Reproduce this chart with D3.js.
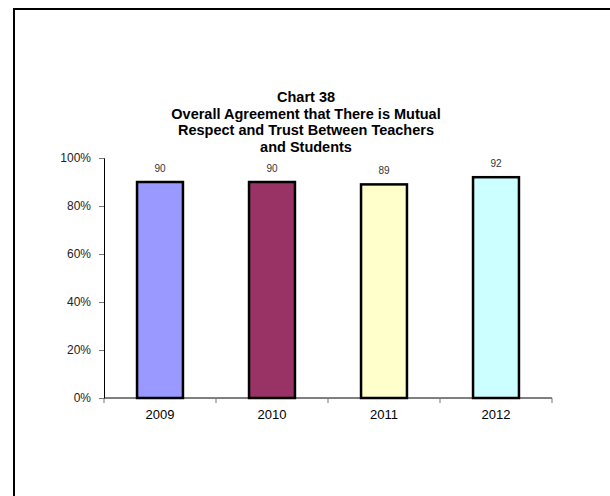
<!DOCTYPE html>
<html>
<head>
<meta charset="utf-8">
<style>
  body { margin: 0; background: #fff; }
  text { font-family: "Liberation Sans", Arial, sans-serif; }
</style>
</head>
<body>
<svg class="chart"></svg>
<script src="https://d3js.org/d3.v7.min.js"></script>
<script>
// data
const years = ["2009", "2010", "2011", "2012"];
const agreement = [90, 90, 89, 92];
const barColors = ["#9999FF", "#993366", "#FFFFCC", "#CCFFFF"];
const yTicks = [0, 20, 40, 60, 80, 100];
const titleLines = ["Chart 38", "Overall Agreement that There is Mutual",
                    "Respect and Trust Between Teachers", "and Students"];

let width = 610, height = 496;
let plot = { left: 104, right: 552, top: 158, bottom: 398 };

let svg = d3.select(".chart")
    .attr("width", width)
    .attr("height", height);

svg.append("rect").attr("width", width).attr("height", height).attr("fill", "#fff");

// outer frame, runs off the right and bottom edges
svg.append("rect")
    .attr("x", 14).attr("y", 9)
    .attr("width", 620).attr("height", 520)
    .attr("fill", "none")
    .attr("stroke", "#000")
    .attr("stroke-width", 2);

// title
svg.append("text")
    .attr("x", 306).attr("y", 102)
    .attr("text-anchor", "middle")
    .style("font-size", "14.5px")
    .style("font-weight", "bold")
    .selectAll("tspan")
    .data(titleLines)
    .join("tspan")
      .attr("x", 306)
      .attr("dy", (d, i) => i == 0 ? 0 : 16.6)
      .text(d => d);

let xScale = d3.scaleBand().domain(years).range([plot.left, plot.right]).paddingInner(0.59).paddingOuter(0.295);
let xTicks = d3.scaleBand().domain(years).range([plot.left, plot.right]);
let yScale = d3.scaleLinear().domain([0, 100]).range([plot.bottom, plot.top]);

// y axis
let yAxis = d3.axisLeft(yScale).tickValues(yTicks).tickSize(5).tickPadding(8).tickFormat(d => d + "%");
let gy = svg.append("g").attr("transform", "translate(" + plot.left + ",0)").call(yAxis);
gy.select(".domain").attr("stroke", "#000");
gy.selectAll(".tick line").attr("stroke", "#777");
gy.selectAll(".tick text").style("font-size", "12px").attr("fill", "#222").style("font-family", "Liberation Sans, Arial, sans-serif");

// bars
svg.selectAll(".bar")
    .data(agreement)
    .join("rect")
      .attr("class", "bar")
      .attr("x", (d, i) => xScale(years[i]))
      .attr("y", d => yScale(d))
      .attr("width", xScale.bandwidth())
      .attr("height", d => plot.bottom - yScale(d))
      .attr("fill", (d, i) => barColors[i])
      .attr("stroke", "#000")
      .attr("stroke-width", 2.5);

// value labels
svg.selectAll(".val")
    .data(agreement)
    .join("text")
      .attr("class", "val")
      .attr("x", (d, i) => xScale(years[i]) + xScale.bandwidth() / 2)
      .attr("y", d => yScale(d) - 10)
      .attr("text-anchor", "middle")
      .style("font-size", "10px")
      .attr("fill", "#333")
      .text(d => d);

// x axis, ticks between categories
let xAxisLine = svg.append("g").attr("transform", "translate(0," + plot.bottom + ")");
xAxisLine.append("line").attr("x1", plot.left).attr("x2", plot.right).attr("stroke", "#000");
xAxisLine.selectAll(".xt")
    .data(years.map(y => xTicks(y)).concat([plot.right]))
    .join("line")
      .attr("class", "xt")
      .attr("x1", d => d).attr("x2", d => d)
      .attr("y1", 0).attr("y2", 5)
      .attr("stroke", "#777");
xAxisLine.selectAll(".xl")
    .data(years)
    .join("text")
      .attr("class", "xl")
      .attr("x", d => xTicks(d) + xTicks.bandwidth() / 2)
      .attr("y", 21)
      .attr("text-anchor", "middle")
      .style("font-size", "13px")
      .attr("fill", "#000")
      .text(d => d);
</script>
</body>
</html>
